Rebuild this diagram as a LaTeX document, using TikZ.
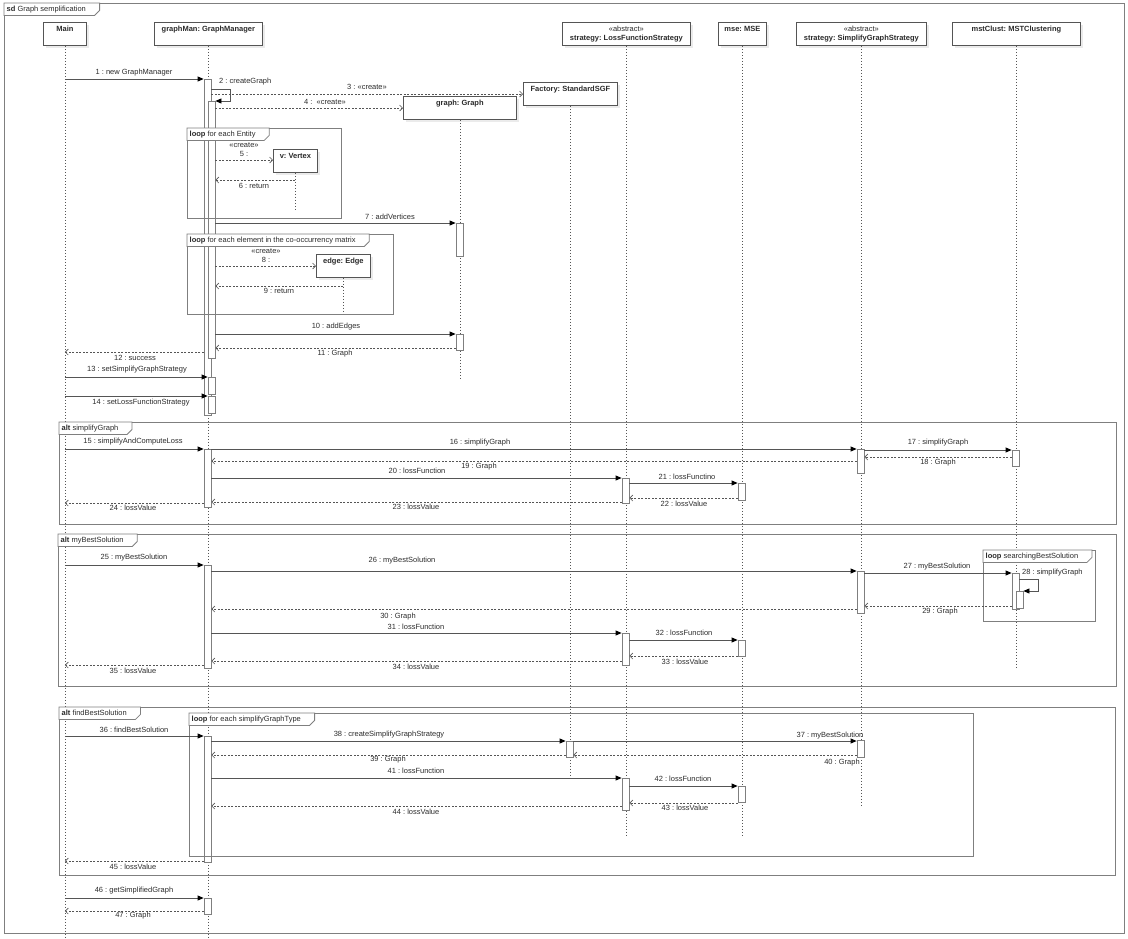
\documentclass[tikz,border=0pt]{standalone}
\usepackage{fontspec}
\setmainfont{Liberation Sans}
\frenchspacing
\usetikzlibrary{arrows.meta,shadows}
\definecolor{fgray}{HTML}{7F7F7F}
\definecolor{mgray}{HTML}{555555}
\definecolor{tgray}{HTML}{2B2B2B}
\tikzset{
  lbl/.style={font=\fontsize{7.5}{9}\selectfont, text=tgray, inner sep=0pt},
  frm/.style={draw=fgray, line width=0.8pt},
  tab/.style={lbl, anchor=north west, inner xsep=2.5pt, minimum height=12pt, fill=white},
  hdr/.style={draw=mgray, fill=white, line width=0.8pt, anchor=north west, inner sep=0pt,
    minimum height=23pt, drop shadow={shadow xshift=3pt, shadow yshift=-3pt, fill=black!8, opacity=1}},
  life/.style={draw=mgray, line width=0.5pt, dash pattern=on 1.5pt off 1.5pt},
  act/.style={draw=fgray, fill=white, line width=0.8pt, minimum width=7pt, inner sep=0pt, anchor=north},
  call/.style={draw=mgray, line width=0.8pt, -{Triangle[length=6pt,width=5pt,color=black]}},
  ret/.style={draw=mgray, line width=0.6pt, dash pattern=on 2pt off 1.5pt, -{Straight Barb[length=3pt,width=6pt]}}
}
% combined fragment: name, x1, y1, x2, y2, keyword, text
\newcommand{\fragment}[7]{%
  \draw[frm] (#2,#3) rectangle (#4,#5);
  \node[tab] (#1) at (#2,#3) {\textbf{#6} #7\kern11pt};
  \draw[frm] (#1.north west) -- (#1.south west) -- ([xshift=-5pt]#1.south east) -- ([yshift=5pt]#1.south east) -- (#1.north east) -- cycle;
}
% lifeline head: name, x1, y1, width, text
\newcommand{\headbox}[5]{%
  \node[hdr, minimum width=#4] (#1) at (#2,#3) {};
  \node[lbl, anchor=north, align=center] (#1-t) at ([yshift=-4pt]#1.north) {#5};
}
% activation: name, x, top, bottom
\newcommand{\actbar}[4]{\node[act, minimum height=#4-#3] (#1) at (#2,#3) {};}
\begin{document}
\begin{tikzpicture}[x=1pt, y=-1pt]
  \useasboundingbox (0,0) rectangle (1128,938);

  % lifelines
  \headbox{main}{43}{22}{43}{\textbf{Main}}
  \headbox{gm}{154}{22}{108}{\textbf{graphMan: GraphManager}}
  \headbox{lfs}{562}{22}{128}{«abstract»\\\textbf{strategy: LossFunctionStrategy}}
  \headbox{mse}{718}{22}{48}{\textbf{mse: MSE}}
  \headbox{sgs}{796}{22}{130}{«abstract»\\\textbf{strategy: SimplifyGraphStrategy}}
  \headbox{mst}{952}{22}{128}{\textbf{mstClust: MSTClustering}}
  \headbox{fac}{523}{82}{94}{\textbf{Factory: StandardSGF}}
  \headbox{graph}{403}{96}{113}{\textbf{graph: Graph}}
  \headbox{vtx}{273}{149}{44}{\textbf{v: Vertex}}
  \headbox{edge}{316}{254}{54}{\textbf{edge: Edge}}
  \draw[life] (main.south) -- (main.south |- 0,938);
  \draw[life] (gm.south) -- (gm.south |- 0,938);
  \draw[life] (lfs.south) -- (lfs.south |- 0,835);
  \draw[life] (mse.south) -- (mse.south |- 0,835);
  \draw[life] (sgs.south) -- (sgs.south |- 0,805);
  \draw[life] (mst.south) -- (mst.south |- 0,667);
  \draw[life] (fac.south) -- (fac.south |- 0,780);
  \draw[life] (graph.south) -- (graph.south |- 0,380);
  \draw[life] (vtx.south) -- (vtx.south |- 0,210);
  \draw[life] (edge.south) -- (edge.south |- 0,315);

  % activations
  \actbar{gm1}{207.5}{79}{415}
  \actbar{gm2}{211.5}{101}{358}
  \actbar{gm3}{211.5}{377}{394}
  \actbar{gm4}{211.5}{396}{413}
  \actbar{g1}{459.5}{223}{256}
  \actbar{g2}{459.5}{334}{350}
  \actbar{gm5}{207.5}{449}{507}
  \actbar{sg1}{860.5}{449}{473}
  \actbar{mc1}{1015.5}{450}{466}
  \actbar{lf1}{625.5}{478}{503}
  \actbar{ms1}{741.5}{483}{500}
  \actbar{gm6}{207.5}{565}{668}
  \actbar{sg2}{860.5}{571}{613}
  \actbar{mc2}{1015.5}{573}{609}
  \actbar{mc3}{1019.5}{591}{608}
  \actbar{lf2}{625.5}{633}{665}
  \actbar{ms2}{741.5}{640}{656}
  \actbar{gm7}{207.5}{736}{862}
  \actbar{fa1}{569.5}{741}{757}
  \actbar{sg3}{860.5}{740}{757}
  \actbar{lf3}{625.5}{778}{810}
  \actbar{ms3}{741.5}{786}{802}
  \actbar{gm8}{207.5}{898}{914}

  % frames
  \fragment{sd}{4}{3}{1124}{933}{sd}{Graph semplification}
  \fragment{loopA}{187}{128}{341}{218}{loop}{for each Entity}
  \fragment{loopB}{187}{234}{393}{314}{loop}{for each element in the co-occurrency matrix}
  \fragment{altA}{59}{422}{1116}{524}{alt}{simplifyGraph}
  \fragment{altB}{58}{534}{1116}{686}{alt}{myBestSolution}
  \fragment{loopC}{983}{550}{1095}{621}{loop}{searchingBestSolution}
  \fragment{altC}{59}{707}{1115}{875}{alt}{findBestSolution}
  \fragment{loopD}{189}{713}{973}{856}{loop}{for each simplifyGraphType}

  % building the graph
  \draw[call] (main |- 0,79) -- (gm1.north west);
  \node[lbl] (m1) at (134,73) {1 : new GraphManager};
  \draw[call] (gm1.east |- 0,89) -- (230,89) -- (230,101) -- (gm2.north east);
  \node[lbl, anchor=west] (m2) at (219,82) {2 : createGraph};
  \draw[ret] (gm1.east |- 0,94) -- (fac.west |- 0,94);
  \node[lbl] (m3) at (367,87) {3 : «create»};
  \draw[ret] (gm2.east |- 0,108) -- (graph.west |- 0,108);
  \node[lbl] (m4) at (325,102) {4 :\ \ «create»};
  \draw[ret] (gm2.east |- 0,160) -- (vtx.west |- 0,160);
  \node[lbl, align=center] (m5) at (244,150) {«create»\\5 :};
  \draw[ret] (vtx |- 0,180) -- (gm2.east |- 0,180);
  \node[lbl] (m6) at (254,186) {6 : return};
  \draw[call] (gm2.east |- 0,223) -- (g1.north west);
  \node[lbl] (m7) at (390,217) {7 : addVertices};
  \draw[ret] (gm2.east |- 0,266) -- (edge.west |- 0,266);
  \node[lbl, align=center] (m8) at (266,256) {«create»\\8 :};
  \draw[ret] (edge |- 0,286) -- (gm2.east |- 0,286);
  \node[lbl] (m9) at (279,291) {9 : return};
  \draw[call] (gm2.east |- 0,334) -- (g2.north west);
  \node[lbl] (m10) at (336,327) {10 : addEdges};
  \draw[ret] (g2.west |- 0,348) -- (gm2.east |- 0,348);
  \node[lbl] (m11) at (335,354) {11 : Graph};
  \draw[ret] (gm1.west |- 0,352) -- (main |- 0,352);
  \node[lbl] (m12) at (135,358) {12 : success};
  \draw[call] (main |- 0,377) -- (gm3.north west);
  \node[lbl] (m13) at (137,370) {13 : setSimplifyGraphStrategy};
  \draw[call] (main |- 0,396) -- (gm4.north west);
  \node[lbl] (m14) at (141,403) {14 : setLossFunctionStrategy};

  % alt simplifyGraph
  \draw[call] (main |- 0,449) -- (gm5.north west);
  \node[lbl] (m15) at (133,442) {15 : simplifyAndComputeLoss};
  \draw[call] (gm5.east |- 0,449) -- (sg1.north west);
  \node[lbl] (m16) at (480,443) {16 : simplifyGraph};
  \draw[call] (sg1.east |- 0,450) -- (mc1.north west);
  \node[lbl] (m17) at (938,443) {17 : simplifyGraph};
  \draw[ret] (mc1.west |- 0,457) -- (sg1.east |- 0,457);
  \node[lbl] (m18) at (938,463) {18 : Graph};
  \draw[ret] (sg1.west |- 0,461) -- (gm5.east |- 0,461);
  \node[lbl] (m19) at (479,467) {19 : Graph};
  \draw[call] (gm5.east |- 0,478) -- (lf1.north west);
  \node[lbl] (m20) at (417,471) {20 : lossFunction};
  \draw[call] (lf1.east |- 0,483) -- (ms1.north west);
  \node[lbl] (m21) at (687,477) {21 : lossFunctino};
  \draw[ret] (ms1.west |- 0,498) -- (lf1.east |- 0,498);
  \node[lbl] (m22) at (684,504) {22 : lossValue};
  \draw[ret] (lf1.west |- 0,502) -- (gm5.east |- 0,502);
  \node[lbl] (m23) at (416,507) {23 : lossValue};
  \draw[ret] (gm5.west |- 0,503) -- (main |- 0,503);
  \node[lbl] (m24) at (133,508) {24 : lossValue};

  % alt myBestSolution
  \draw[call] (main |- 0,565) -- (gm6.north west);
  \node[lbl] (m25) at (134,558) {25 : myBestSolution};
  \draw[call] (gm6.east |- 0,571) -- (sg2.north west);
  \node[lbl] (m26) at (402,561) {26 : myBestSolution};
  \draw[call] (sg2.east |- 0,573) -- (mc2.north west);
  \node[lbl] (m27) at (937,567) {27 : myBestSolution};
  \draw[call] (mc2.east |- 0,579) -- (1038,579) -- (1038,591) -- (mc3.north east);
  \node[lbl, anchor=west] (m28) at (1022,573) {28 : simplifyGraph};
  \draw[ret] (mc2.west |- 0,606) -- (sg2.east |- 0,606);
  \node[lbl] (m29) at (940,612) {29 : Graph};
  \draw[ret] (sg2.west |- 0,609) -- (gm6.east |- 0,609);
  \node[lbl] (m30) at (398,617) {30 : Graph};
  \draw[call] (gm6.east |- 0,633) -- (lf2.north west);
  \node[lbl] (m31) at (416,627) {31 : lossFunction};
  \draw[call] (lf2.east |- 0,640) -- (ms2.north west);
  \node[lbl] (m32) at (684,633) {32 : lossFunction};
  \draw[ret] (ms2.west |- 0,656) -- (lf2.east |- 0,656);
  \node[lbl] (m33) at (685,662) {33 : lossValue};
  \draw[ret] (lf2.west |- 0,661) -- (gm6.east |- 0,661);
  \node[lbl] (m34) at (416,667) {34 : lossValue};
  \draw[ret] (gm6.west |- 0,665) -- (main |- 0,665);
  \node[lbl] (m35) at (133,671) {35 : lossValue};

  % alt findBestSolution
  \draw[call] (main |- 0,736) -- (gm7.north west);
  \node[lbl] (m36) at (134,730) {36 : findBestSolution};
  \draw[call] (gm7.east |- 0,741) -- (fa1.north west);
  \node[lbl] (m38) at (389,735) {38 : createSimplifyGraphStrategy};
  \draw[call] (fa1.east |- 0,741) -- (sg3.west |- 0,741);
  \node[lbl] (m37) at (830,736) {37 : myBestSolution};
  \draw[ret] (sg3.west |- 0,755) -- (fa1.east |- 0,755);
  \node[lbl] (m40) at (842,763) {40 : Graph};
  \draw[ret] (fa1.west |- 0,755) -- (gm7.east |- 0,755);
  \node[lbl] (m39) at (388,760) {39 : Graph};
  \draw[call] (gm7.east |- 0,778) -- (lf3.north west);
  \node[lbl] (m41) at (416,771) {41 : lossFunction};
  \draw[call] (lf3.east |- 0,786) -- (ms3.north west);
  \node[lbl] (m42) at (683,779) {42 : lossFunction};
  \draw[ret] (ms3.west |- 0,803) -- (lf3.east |- 0,803);
  \node[lbl] (m43) at (685,808) {43 : lossValue};
  \draw[ret] (lf3.west |- 0,806) -- (gm7.east |- 0,806);
  \node[lbl] (m44) at (416,812) {44 : lossValue};
  \draw[ret] (gm7.west |- 0,861) -- (main |- 0,861);
  \node[lbl] (m45) at (133,867) {45 : lossValue};
  \draw[call] (main |- 0,898) -- (gm8.north west);
  \node[lbl] (m46) at (134,891) {46 : getSimplifiedGraph};
  \draw[ret] (gm8.west |- 0,911) -- (main |- 0,911);
  \node[lbl] (m47) at (133,916) {47 : Graph};
\end{tikzpicture}
\end{document}
